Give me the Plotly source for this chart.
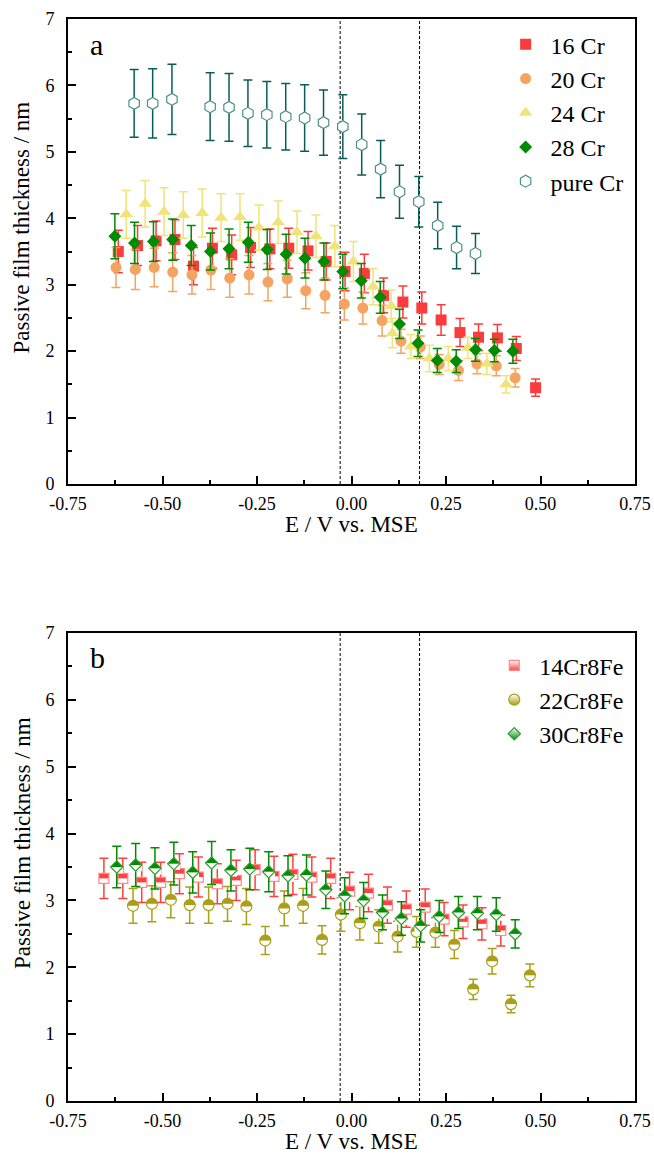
import plotly.graph_objects as go

# ---- panel a: Cr-containing alloys ----
x16 = [-0.617, -0.566, -0.517, -0.467, -0.418, -0.368, -0.317, -0.267, -0.216, -0.166, -0.115, -0.067,
       -0.017, 0.034, 0.085, 0.136, 0.186, 0.237, 0.287, 0.336, 0.386, 0.436, 0.487]
y16 = [3.50, 3.59, 3.66, 3.68, 3.28, 3.55, 3.45, 3.56, 3.54, 3.55, 3.51, 3.35,
       3.20, 3.17, 2.84, 2.74, 2.65, 2.47, 2.28, 2.21, 2.20, 2.04, 1.45]
e16 = [0.32, 0.30, 0.30, 0.30, 0.28, 0.30, 0.30, 0.30, 0.30, 0.30, 0.29, 0.28,
       0.29, 0.29, 0.26, 0.24, 0.24, 0.23, 0.21, 0.20, 0.20, 0.18, 0.13]

x20 = [-0.623, -0.572, -0.522, -0.473, -0.422, -0.372, -0.322, -0.271, -0.221, -0.170, -0.121,
       -0.070, -0.019, 0.030, 0.081, 0.131, 0.182, 0.232, 0.283, 0.332, 0.383, 0.433]
y20 = [3.26, 3.23, 3.26, 3.19, 3.15, 3.22, 3.10, 3.15, 3.04, 3.09, 2.91,
       2.84, 2.71, 2.65, 2.46, 2.15, 2.06, 1.80, 1.71, 1.81, 1.78, 1.60]
e20 = [0.30, 0.30, 0.29, 0.29, 0.29, 0.29, 0.29, 0.29, 0.28, 0.28, 0.27,
       0.26, 0.24, 0.24, 0.23, 0.18, 0.17, 0.15, 0.15, 0.15, 0.15, 0.14]

x24 = [-0.596, -0.546, -0.496, -0.445, -0.395, -0.345, -0.295, -0.245, -0.194, -0.144, -0.094,
       -0.044, 0.005, 0.057, 0.105, 0.108, 0.157, 0.206, 0.256, 0.308, 0.358, 0.409]
y24 = [4.06, 4.22, 4.10, 4.05, 4.08, 4.01, 4.02, 3.86, 3.94, 3.79, 3.73,
       3.58, 3.35, 2.97, 2.68, 2.27, 2.07, 1.89, 1.89, 2.05, 1.81, 1.50]
e24 = [0.36, 0.35, 0.36, 0.35, 0.36, 0.36, 0.35, 0.34, 0.32, 0.32, 0.32,
       0.31, 0.30, 0.27, 0.24, 0.22, 0.18, 0.20, 0.18, 0.16, 0.16, 0.13]

x28 = [-0.626, -0.574, -0.524, -0.473, -0.424, -0.373, -0.324, -0.273, -0.223, -0.173, -0.123,
       -0.073, -0.023, 0.026, 0.076, 0.127, 0.176, 0.227, 0.277, 0.328, 0.378, 0.427]
y28 = [3.73, 3.63, 3.65, 3.68, 3.59, 3.50, 3.54, 3.64, 3.53, 3.46, 3.40,
       3.35, 3.20, 3.06, 2.81, 2.41, 2.12, 1.86, 1.85, 2.02, 2.01, 2.00]
e28 = [0.34, 0.31, 0.30, 0.31, 0.30, 0.28, 0.30, 0.30, 0.30, 0.30, 0.30,
       0.28, 0.26, 0.26, 0.24, 0.22, 0.20, 0.18, 0.17, 0.17, 0.17, 0.18]

x_cr = [-0.575, -0.526, -0.475, -0.374, -0.324, -0.274, -0.224, -0.174, -0.124,
        -0.074, -0.023, 0.027, 0.077, 0.127, 0.178, 0.228, 0.278, 0.328]
y_cr = [5.73, 5.73, 5.79, 5.68, 5.67, 5.58, 5.56, 5.53, 5.51,
        5.44, 5.38, 5.11, 4.74, 4.40, 4.25, 3.89, 3.56, 3.47]
e_cr = [0.51, 0.52, 0.53, 0.51, 0.51, 0.50, 0.50, 0.50, 0.50,
        0.49, 0.48, 0.46, 0.43, 0.40, 0.38, 0.35, 0.32, 0.30]

# ---- panel b: Cr-Fe alloys ----
x14 = [-0.655, -0.605, -0.555, -0.505, -0.455, -0.405, -0.355, -0.305, -0.255, -0.205, -0.155,
       -0.105, -0.055, -0.005, 0.045, 0.095, 0.145, 0.195, 0.245, 0.295, 0.345, 0.395]
y14 = [3.33, 3.33, 3.27, 3.27, 3.40, 3.35, 3.25, 3.30, 3.46, 3.36, 3.39,
       3.35, 3.33, 3.14, 3.11, 2.93, 2.87, 2.90, 2.72, 2.68, 2.65, 2.55]
e14 = [0.30, 0.30, 0.30, 0.30, 0.30, 0.30, 0.30, 0.30, 0.30, 0.30, 0.30,
       0.30, 0.30, 0.28, 0.28, 0.27, 0.27, 0.27, 0.25, 0.25, 0.24, 0.23]

x22 = [-0.578, -0.528, -0.478, -0.428, -0.378, -0.328, -0.278, -0.228, -0.178, -0.128, -0.078,
       -0.028, 0.022, 0.072, 0.122, 0.172, 0.222, 0.272, 0.322, 0.372, 0.422, 0.472]
y22 = [2.92, 2.95, 3.01, 2.93, 2.93, 2.95, 2.91, 2.40, 2.88, 2.92, 2.41,
       2.79, 2.66, 2.61, 2.46, 2.53, 2.52, 2.34, 1.67, 2.09, 1.45, 1.88]
e22 = [0.26, 0.27, 0.27, 0.27, 0.27, 0.26, 0.27, 0.21, 0.26, 0.26, 0.21,
       0.25, 0.25, 0.25, 0.23, 0.23, 0.22, 0.21, 0.15, 0.19, 0.13, 0.17]

x30 = [-0.621, -0.571, -0.520, -0.470, -0.420, -0.370, -0.319, -0.269, -0.219, -0.168, -0.119,
       -0.068, -0.018, 0.032, 0.082, 0.132, 0.183, 0.232, 0.283, 0.333, 0.383, 0.433]
y30 = [3.50, 3.53, 3.48, 3.55, 3.42, 3.56, 3.45, 3.47, 3.43, 3.37, 3.38,
       3.16, 3.07, 3.00, 2.82, 2.73, 2.62, 2.76, 2.82, 2.81, 2.79, 2.50]
e30 = [0.31, 0.32, 0.31, 0.32, 0.31, 0.32, 0.31, 0.31, 0.30, 0.30, 0.30,
       0.28, 0.27, 0.27, 0.26, 0.25, 0.24, 0.24, 0.24, 0.25, 0.25, 0.21]

vlines = [-0.03, 0.18]
xticks = [-0.75, -0.50, -0.25, 0.00, 0.25, 0.50, 0.75]
xticklabels = ["-0.75", "-0.50", "-0.25", "0.00", "0.25", "0.50", "0.75"]

FONT = "Liberation Serif, Times New Roman, serif"
W, H = 654, 1158
MT, MB, ML, MR = 19, 57, 68, 19
TOP_DOM = [0.5702, 1.0]
BOT_DOM = [0.0, 0.4325]
px_per_unit = (H - MT - MB) * (BOT_DOM[1] - BOT_DOM[0]) / 7

fig = go.Figure()


def err(arr, color):
    return dict(type="data", array=arr, color=color, thickness=1.5, width=4.5)


def full_series(x, y, e, name, symbol, size, color, edge=None, ecolor=None, fill=None):
    fig.add_trace(go.Scatter(
        x=x, y=y, mode="markers", name=name, error_y=err(e, ecolor or color),
        marker=dict(symbol=symbol, size=size, color=fill or color,
                    line=dict(color=edge or color, width=1.2 if edge else 0)),
        xaxis="x", yaxis="y", legend="legend"))


full_series(x16, y16, e16, "16 Cr", "square", 11, "#fa3c3c")
full_series(x20, y20, e20, "20 Cr", "circle", 11, "#f4a460")
full_series(x24, y24, e24, "24 Cr", "triangle-up", 12, "#f0e478")
full_series(x28, y28, e28, "28 Cr", "diamond", 10, "#008c00")
full_series(x_cr, y_cr, e_cr, "pure Cr", "hexagon", 12, "#4e9090",
            edge="#4e9090", ecolor="#0a5c5a", fill="white")


# half-filled markers: filled shape, white block over lower half, outline on top
def half_series(x, y, e, name, symbol, size, extent, color, edge):
    fig.add_trace(go.Scatter(
        x=x, y=y, mode="markers", showlegend=False, error_y=err(e, color),
        marker=dict(symbol=symbol, size=size, color=color, line=dict(width=0)),
        xaxis="x2", yaxis="y2"))
    shift = extent / 4 / px_per_unit
    fig.add_trace(go.Scatter(
        x=x, y=[v - shift for v in y], mode="markers", showlegend=False, hoverinfo="skip",
        marker=dict(symbol="line-ew", size=extent / 1.4, line=dict(color="white", width=extent / 2)),
        xaxis="x2", yaxis="y2"))
    fig.add_trace(go.Scatter(
        x=x, y=y, mode="markers", showlegend=False, hoverinfo="skip",
        marker=dict(symbol=symbol + "-open", size=size, color=edge, line=dict(color=edge, width=1.2)),
        xaxis="x2", yaxis="y2"))
    fig.add_trace(go.Scatter(
        x=[None], y=[None], mode="markers", name=name,
        marker=dict(symbol=symbol, size=size, color="white",
                    gradient=dict(type="vertical", color=color),
                    line=dict(color=edge, width=1.2)),
        xaxis="x2", yaxis="y2", legend="legend2"))


half_series(x14, y14, e14, "14Cr8Fe", "square", 10, 10, "#ff4040", "#ff8a8a")
half_series(x22, y22, e22, "22Cr8Fe", "circle", 11, 11, "#aa9f17", "#aa9f17")
half_series(x30, y30, e30, "30Cr8Fe", "diamond", 9.5, 12.4, "#008c00", "#2e9e2e")

for xr, yr in [("x", "y"), ("x2", "y2")]:
    for v in vlines:
        fig.add_shape(type="line", xref=xr, yref=yr + " domain", x0=v, x1=v, y0=0, y1=1,
                      line=dict(color="black", width=1, dash="3px,2px"), layer="below")

tickfont = dict(family=FONT, size=18, color="black")
titlefont = dict(family=FONT, size=23, color="black")
axis_common = dict(showline=True, mirror=True, linecolor="black", linewidth=2,
                   ticks="inside", ticklen=8, tickwidth=1.5, tickcolor="black",
                   showgrid=False, zeroline=False, tickfont=tickfont, automargin=False)

xaxis = dict(axis_common, range=[-0.75, 0.75], tickvals=xticks, ticktext=xticklabels,
             minor=dict(dtick=0.125, tick0=-0.75, ticks="inside", ticklen=4, tickwidth=1.5, tickcolor="black"),
             ticklabelstandoff=2)
yaxis = dict(axis_common, range=[0, 7], dtick=1, tick0=0,
             minor=dict(dtick=0.5, ticks="inside", ticklen=4, tickwidth=1.5, tickcolor="black"),
             ticklabelstandoff=8)

# axis titles as annotations, so nothing pushes the margins
annotations = []
for xr, yr, letter in [("x", "y", "a"), ("x2", "y2", "b")]:
    annotations += [
        dict(text="E / V vs. MSE", xref=xr + " domain", yref=yr + " domain", x=0.5, y=0,
             yshift=-40, xanchor="center", yanchor="middle", showarrow=False, font=titlefont),
        dict(text="Passive film thickness / nm", xref=xr + " domain", yref=yr + " domain",
             x=0, y=0.5, xshift=-46, yshift=24, textangle=-90, xanchor="center", yanchor="middle",
             showarrow=False, font=titlefont),
        dict(text=letter, xref=xr + " domain", yref=yr + " domain", x=0.036,
             y=0.945 if letter == "a" else 0.948, xanchor="left", yanchor="middle",
             showarrow=False, font=dict(family=FONT, size=30, color="black")),
    ]

fig.update_layout(
    width=W, height=H,
    margin=dict(l=ML, r=MR, t=MT, b=MB),
    paper_bgcolor="white", plot_bgcolor="white",
    font=dict(family=FONT, color="black"),
    xaxis=dict(xaxis, domain=[0, 1], anchor="y"),
    yaxis=dict(yaxis, domain=TOP_DOM, anchor="x"),
    xaxis2=dict(xaxis, domain=[0, 1], anchor="y2"),
    yaxis2=dict(yaxis, domain=BOT_DOM, anchor="x2"),
    legend=dict(x=0.763, y=0.997, xanchor="left", yanchor="top", bgcolor="rgba(0,0,0,0)",
                font=dict(family=FONT, size=24), itemwidth=40),
    legend2=dict(x=0.743, y=0.423, xanchor="left", yanchor="top", bgcolor="rgba(0,0,0,0)",
                 font=dict(family=FONT, size=24), itemwidth=40),
    annotations=annotations,
)

# page body has a default margin; drop it so the figure sits at the window origin
fig.write_html("out.html", config={"displayModeBar": False},
               post_script="document.body.style.margin='0px';")
